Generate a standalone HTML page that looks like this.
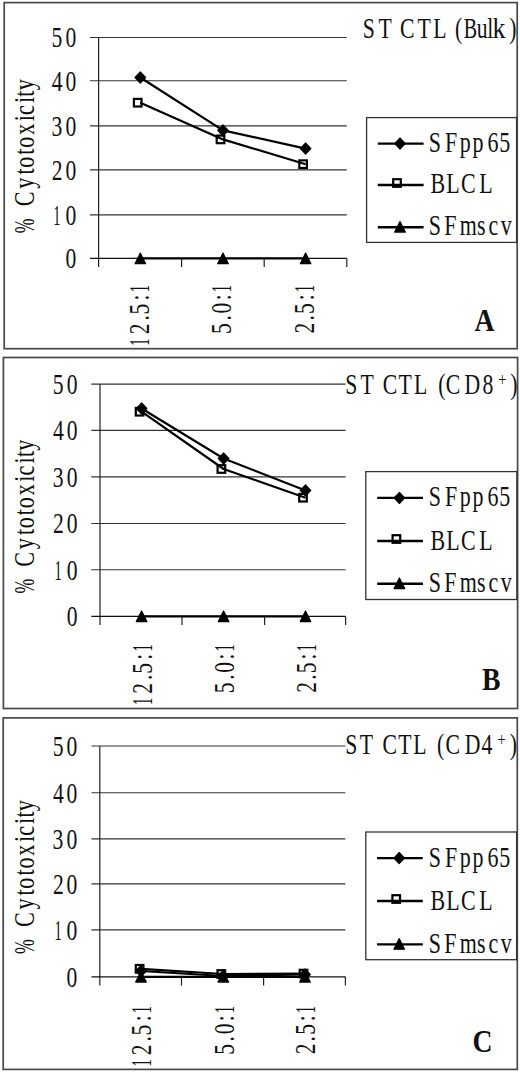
<!DOCTYPE html>
<html><head><meta charset="utf-8"><style>
html,body{margin:0;padding:0;background:#fff;width:520px;height:1072px;overflow:hidden}
svg{display:block;font-family:"Liberation Serif",serif}
</style></head><body>
<svg width="520" height="1072" viewBox="0 0 520 1072" font-family="Liberation Serif, serif">
<rect width="520" height="1072" fill="#fff"/>
<rect x="4.2" y="2.6" width="513.00" height="346.10" fill="none" stroke="#484848" stroke-width="1.7"/>
<line x1="90.00" y1="214.90" x2="346.80" y2="214.90" stroke="#333" stroke-width="1.1"/>
<line x1="90.00" y1="169.90" x2="346.80" y2="169.90" stroke="#333" stroke-width="1.1"/>
<line x1="90.00" y1="125.90" x2="346.80" y2="125.90" stroke="#333" stroke-width="1.1"/>
<line x1="90.00" y1="80.80" x2="346.80" y2="80.80" stroke="#333" stroke-width="1.1"/>
<line x1="90.00" y1="37.50" x2="346.80" y2="37.50" stroke="#333" stroke-width="1.1"/>
<line x1="98.60" y1="37.50" x2="98.60" y2="267.00" stroke="#222" stroke-width="1.2"/>
<line x1="90.00" y1="258.40" x2="346.80" y2="258.40" stroke="#111" stroke-width="1.3"/>
<line x1="181.60" y1="258.40" x2="181.60" y2="267.00" stroke="#222" stroke-width="1.2"/>
<line x1="264.20" y1="258.40" x2="264.20" y2="267.00" stroke="#222" stroke-width="1.2"/>
<line x1="346.80" y1="258.40" x2="346.80" y2="267.00" stroke="#222" stroke-width="1.2"/>
<text transform="translate(0,268.30) scale(0.7500,1)" x="87.20" y="0" font-size="28.80" fill="#111">0</text>
<text transform="translate(0,224.80) scale(0.5000,1)" x="106.37" y="0" font-size="28.80" fill="#111">1</text>
<text transform="translate(0,224.80) scale(0.7500,1)" x="87.20" y="0" font-size="28.80" fill="#111">0</text>
<text transform="translate(0,179.80) scale(0.7500,1)" x="68.95 87.20" y="0" font-size="28.80" fill="#111">20</text>
<text transform="translate(0,135.80) scale(0.7500,1)" x="68.52 87.20" y="0" font-size="28.80" fill="#111">30</text>
<text transform="translate(0,90.70) scale(0.7500,1)" x="68.93 87.20" y="0" font-size="28.80" fill="#111">40</text>
<text transform="translate(0,47.40) scale(0.7500,1)" x="68.65 87.20" y="0" font-size="28.80" fill="#111">50</text>
<polyline points="140.30,258.40 223.00,258.40 305.60,258.40" fill="none" stroke="#000" stroke-width="2.2" stroke-linejoin="round"/>
<polyline points="140.30,102.70 223.00,139.40 305.60,164.20" fill="none" stroke="#000" stroke-width="2.2" stroke-linejoin="round"/>
<polyline points="140.30,77.50 223.00,130.40 305.60,148.60" fill="none" stroke="#000" stroke-width="2.2" stroke-linejoin="round"/>
<path d="M135.00,263.70L140.30,253.10L145.60,263.70Z" fill="#000" stroke="#000" stroke-width="1.2" stroke-linejoin="round"/>
<path d="M217.70,263.70L223.00,253.10L228.30,263.70Z" fill="#000" stroke="#000" stroke-width="1.2" stroke-linejoin="round"/>
<path d="M300.30,263.70L305.60,253.10L310.90,263.70Z" fill="#000" stroke="#000" stroke-width="1.2" stroke-linejoin="round"/>
<rect x="133.90" y="98.90" width="7.60" height="7.60" fill="none" stroke="#000" stroke-width="2.2"/>
<rect x="216.70" y="135.60" width="7.60" height="7.60" fill="none" stroke="#000" stroke-width="2.2"/>
<rect x="299.30" y="160.40" width="7.60" height="7.60" fill="none" stroke="#000" stroke-width="2.2"/>
<path d="M135.00,77.50L140.30,71.90L145.60,77.50L140.30,83.10Z" fill="#000" stroke="#000" stroke-width="1.1" stroke-linejoin="round"/>
<path d="M217.70,130.40L223.00,124.80L228.30,130.40L223.00,136.00Z" fill="#000" stroke="#000" stroke-width="1.1" stroke-linejoin="round"/>
<path d="M300.30,148.60L305.60,143.00L310.90,148.60L305.60,154.20Z" fill="#000" stroke="#000" stroke-width="1.1" stroke-linejoin="round"/>
<text transform="translate(34.00,219.05) rotate(-90) scale(0.7500,1)" x="17.05 40.39 59.26 68.27 85.66 95.07 112.27 130.32 138.74 154.59 163.12 171.59" y="0" font-size="29.60" fill="#111">Cytotoxicity</text>
<text transform="translate(34.00,245.75) rotate(-90) scale(0.6000,1)" x="21.05" y="0" font-size="29.60" fill="#111">%</text>
<text transform="translate(148.50,361.90) rotate(-90) scale(0.5000,1)" x="32.42 139.22" y="0" font-size="28.60" fill="#111">11</text>
<text transform="translate(148.50,361.90) rotate(-90) scale(0.7500,1)" x="36.74 55.09 63.23 82.00" y="0" font-size="28.60" fill="#111">2.5:</text>
<text transform="translate(231.40,348.30) rotate(-90) scale(0.7500,1)" x="19.23 37.09 46.45 64.00" y="0" font-size="28.60" fill="#111">5.0:</text>
<text transform="translate(231.40,348.30) rotate(-90) scale(0.5000,1)" x="112.02" y="0" font-size="28.60" fill="#111">1</text>
<text transform="translate(313.90,348.30) rotate(-90) scale(0.7500,1)" x="19.80 37.09 45.90 64.00" y="0" font-size="28.60" fill="#111">2.5:</text>
<text transform="translate(313.90,348.30) rotate(-90) scale(0.5000,1)" x="112.02" y="0" font-size="28.60" fill="#111">1</text>
<rect x="366.6" y="117.6" width="150.00" height="124.80" fill="#fff" stroke="#333" stroke-width="1.3"/>
<line x1="377.80" y1="143.60" x2="423.60" y2="143.60" stroke="#000" stroke-width="2.4"/>
<path d="M394.70,143.60L400.00,138.00L405.30,143.60L400.00,149.20Z" fill="#000" stroke="#000" stroke-width="1.1" stroke-linejoin="round"/>
<line x1="377.80" y1="185.00" x2="423.60" y2="185.00" stroke="#000" stroke-width="2.4"/>
<rect x="393.20" y="179.20" width="7.60" height="7.60" fill="none" stroke="#000" stroke-width="2.2"/>
<line x1="377.80" y1="227.30" x2="423.60" y2="227.30" stroke="#000" stroke-width="2.4"/>
<path d="M394.70,232.10L400.00,221.50L405.30,232.10Z" fill="#000" stroke="#000" stroke-width="1.2" stroke-linejoin="round"/>
<text transform="translate(0,151.50) scale(0.7500,1)" x="571.68 593.39 613.01 629.95 650.03 665.71" y="0" font-size="29.30" fill="#111">SFpp65</text>
<text transform="translate(0,192.90) scale(0.7500,1)" x="574.05 595.12 614.83 639.12" y="0" font-size="29.30" fill="#111">BLCL</text>
<text transform="translate(0,235.00) scale(0.7500,1)" x="571.82 592.45 613.15 636.16 651.36 667.60" y="0" font-size="29.30" fill="#111">SFmscv</text>
<text transform="translate(474.52,331.10) scale(0.8800,1)" x="0.00" y="0" font-size="31.50" font-weight="bold" fill="#111">A</text>
<rect x="3.4" y="357.5" width="514.20" height="351.00" fill="none" stroke="#484848" stroke-width="1.7"/>
<line x1="91.30" y1="569.70" x2="345.60" y2="569.70" stroke="#333" stroke-width="1.1"/>
<line x1="91.30" y1="523.50" x2="345.60" y2="523.50" stroke="#333" stroke-width="1.1"/>
<line x1="91.30" y1="476.90" x2="345.60" y2="476.90" stroke="#333" stroke-width="1.1"/>
<line x1="91.30" y1="430.40" x2="345.60" y2="430.40" stroke="#333" stroke-width="1.1"/>
<line x1="91.30" y1="384.10" x2="345.60" y2="384.10" stroke="#333" stroke-width="1.1"/>
<line x1="100.00" y1="384.10" x2="100.00" y2="625.00" stroke="#222" stroke-width="1.2"/>
<line x1="91.30" y1="616.30" x2="345.60" y2="616.30" stroke="#111" stroke-width="1.3"/>
<line x1="182.00" y1="616.30" x2="182.00" y2="625.00" stroke="#222" stroke-width="1.2"/>
<line x1="264.60" y1="616.30" x2="264.60" y2="625.00" stroke="#222" stroke-width="1.2"/>
<line x1="345.60" y1="616.30" x2="345.60" y2="625.00" stroke="#222" stroke-width="1.2"/>
<text transform="translate(0,626.20) scale(0.7500,1)" x="89.07" y="0" font-size="28.80" fill="#111">0</text>
<text transform="translate(0,579.60) scale(0.5000,1)" x="109.17" y="0" font-size="28.80" fill="#111">1</text>
<text transform="translate(0,579.60) scale(0.7500,1)" x="89.07" y="0" font-size="28.80" fill="#111">0</text>
<text transform="translate(0,533.40) scale(0.7500,1)" x="70.82 89.07" y="0" font-size="28.80" fill="#111">20</text>
<text transform="translate(0,486.80) scale(0.7500,1)" x="70.39 89.07" y="0" font-size="28.80" fill="#111">30</text>
<text transform="translate(0,440.30) scale(0.7500,1)" x="70.80 89.07" y="0" font-size="28.80" fill="#111">40</text>
<text transform="translate(0,394.00) scale(0.7500,1)" x="70.51 89.07" y="0" font-size="28.80" fill="#111">50</text>
<polyline points="141.60,616.30 223.60,616.30 305.50,616.30" fill="none" stroke="#000" stroke-width="2.2" stroke-linejoin="round"/>
<polyline points="141.60,411.70 223.60,469.00 305.50,497.70" fill="none" stroke="#000" stroke-width="2.2" stroke-linejoin="round"/>
<polyline points="141.60,408.50 223.60,458.50 305.50,490.40" fill="none" stroke="#000" stroke-width="2.2" stroke-linejoin="round"/>
<path d="M136.30,621.60L141.60,611.00L146.90,621.60Z" fill="#000" stroke="#000" stroke-width="1.2" stroke-linejoin="round"/>
<path d="M218.30,621.60L223.60,611.00L228.90,621.60Z" fill="#000" stroke="#000" stroke-width="1.2" stroke-linejoin="round"/>
<path d="M300.20,621.60L305.50,611.00L310.80,621.60Z" fill="#000" stroke="#000" stroke-width="1.2" stroke-linejoin="round"/>
<rect x="135.80" y="407.90" width="7.60" height="7.60" fill="none" stroke="#000" stroke-width="2.2"/>
<rect x="217.60" y="465.20" width="7.60" height="7.60" fill="none" stroke="#000" stroke-width="2.2"/>
<rect x="299.20" y="493.90" width="7.60" height="7.60" fill="none" stroke="#000" stroke-width="2.2"/>
<path d="M136.30,408.50L141.60,402.90L146.90,408.50L141.60,414.10Z" fill="#000" stroke="#000" stroke-width="1.1" stroke-linejoin="round"/>
<path d="M218.30,458.50L223.60,452.90L228.90,458.50L223.60,464.10Z" fill="#000" stroke="#000" stroke-width="1.1" stroke-linejoin="round"/>
<path d="M300.20,490.40L305.50,484.80L310.80,490.40L305.50,496.00Z" fill="#000" stroke="#000" stroke-width="1.1" stroke-linejoin="round"/>
<text transform="translate(33.90,579.45) rotate(-90) scale(0.7500,1)" x="17.05 40.39 59.26 68.27 85.66 95.07 112.27 130.32 138.74 154.59 163.12 171.59" y="0" font-size="29.60" fill="#111">Cytotoxicity</text>
<text transform="translate(33.90,606.15) rotate(-90) scale(0.6000,1)" x="21.05" y="0" font-size="29.60" fill="#111">%</text>
<text transform="translate(151.70,721.20) rotate(-90) scale(0.5000,1)" x="32.42 139.22" y="0" font-size="28.60" fill="#111">11</text>
<text transform="translate(151.70,721.20) rotate(-90) scale(0.7500,1)" x="36.74 55.09 63.23 82.00" y="0" font-size="28.60" fill="#111">2.5:</text>
<text transform="translate(233.50,707.60) rotate(-90) scale(0.7500,1)" x="19.23 37.09 46.45 64.00" y="0" font-size="28.60" fill="#111">5.0:</text>
<text transform="translate(233.50,707.60) rotate(-90) scale(0.5000,1)" x="112.02" y="0" font-size="28.60" fill="#111">1</text>
<text transform="translate(315.50,707.60) rotate(-90) scale(0.7500,1)" x="19.80 37.09 45.90 64.00" y="0" font-size="28.60" fill="#111">2.5:</text>
<text transform="translate(315.50,707.60) rotate(-90) scale(0.5000,1)" x="112.02" y="0" font-size="28.60" fill="#111">1</text>
<rect x="365.8" y="471.6" width="151.00" height="127.90" fill="#fff" stroke="#333" stroke-width="1.3"/>
<line x1="377.20" y1="497.90" x2="423.00" y2="497.90" stroke="#000" stroke-width="2.4"/>
<path d="M394.10,497.90L399.40,492.30L404.70,497.90L399.40,503.50Z" fill="#000" stroke="#000" stroke-width="1.1" stroke-linejoin="round"/>
<line x1="377.20" y1="541.00" x2="423.00" y2="541.00" stroke="#000" stroke-width="2.4"/>
<rect x="392.60" y="535.20" width="7.60" height="7.60" fill="none" stroke="#000" stroke-width="2.2"/>
<line x1="377.20" y1="583.80" x2="423.00" y2="583.80" stroke="#000" stroke-width="2.4"/>
<path d="M394.10,588.60L399.40,578.00L404.70,588.60Z" fill="#000" stroke="#000" stroke-width="1.2" stroke-linejoin="round"/>
<text transform="translate(0,506.40) scale(0.7500,1)" x="571.68 593.39 613.01 629.95 650.03 665.71" y="0" font-size="29.30" fill="#111">SFpp65</text>
<text transform="translate(0,549.50) scale(0.7500,1)" x="574.05 595.12 614.83 639.12" y="0" font-size="29.30" fill="#111">BLCL</text>
<text transform="translate(0,592.10) scale(0.7500,1)" x="571.82 592.45 613.15 636.16 651.36 667.60" y="0" font-size="29.30" fill="#111">SFmscv</text>
<text transform="translate(481.95,689.80) scale(0.8800,1)" x="0.00" y="0" font-size="31.50" font-weight="bold" fill="#111">B</text>
<rect x="3.2" y="717.9" width="514.10" height="351.50" fill="none" stroke="#484848" stroke-width="1.7"/>
<line x1="91.50" y1="929.90" x2="345.40" y2="929.90" stroke="#333" stroke-width="1.1"/>
<line x1="91.50" y1="883.90" x2="345.40" y2="883.90" stroke="#333" stroke-width="1.1"/>
<line x1="91.50" y1="838.85" x2="345.40" y2="838.85" stroke="#333" stroke-width="1.1"/>
<line x1="91.50" y1="792.80" x2="345.40" y2="792.80" stroke="#333" stroke-width="1.1"/>
<line x1="91.50" y1="746.00" x2="345.40" y2="746.00" stroke="#333" stroke-width="1.1"/>
<line x1="99.80" y1="746.00" x2="99.80" y2="985.60" stroke="#222" stroke-width="1.2"/>
<line x1="91.50" y1="976.80" x2="345.40" y2="976.80" stroke="#111" stroke-width="1.3"/>
<line x1="181.50" y1="976.80" x2="181.50" y2="985.60" stroke="#222" stroke-width="1.2"/>
<line x1="263.60" y1="976.80" x2="263.60" y2="985.60" stroke="#222" stroke-width="1.2"/>
<line x1="345.40" y1="976.80" x2="345.40" y2="985.60" stroke="#222" stroke-width="1.2"/>
<text transform="translate(0,986.70) scale(0.7500,1)" x="88.80" y="0" font-size="28.80" fill="#111">0</text>
<text transform="translate(0,939.80) scale(0.5000,1)" x="108.77" y="0" font-size="28.80" fill="#111">1</text>
<text transform="translate(0,939.80) scale(0.7500,1)" x="88.80" y="0" font-size="28.80" fill="#111">0</text>
<text transform="translate(0,893.80) scale(0.7500,1)" x="70.55 88.80" y="0" font-size="28.80" fill="#111">20</text>
<text transform="translate(0,848.75) scale(0.7500,1)" x="70.12 88.80" y="0" font-size="28.80" fill="#111">30</text>
<text transform="translate(0,802.70) scale(0.7500,1)" x="70.53 88.80" y="0" font-size="28.80" fill="#111">40</text>
<text transform="translate(0,755.90) scale(0.7500,1)" x="70.25 88.80" y="0" font-size="28.80" fill="#111">50</text>
<polyline points="141.00,976.80 223.30,976.80 305.00,976.80" fill="none" stroke="#000" stroke-width="2.2" stroke-linejoin="round"/>
<polyline points="141.00,968.80 223.30,974.00 305.00,973.60" fill="none" stroke="#000" stroke-width="2.2" stroke-linejoin="round"/>
<polyline points="141.00,971.00 223.30,976.00 305.00,974.50" fill="none" stroke="#000" stroke-width="2.2" stroke-linejoin="round"/>
<path d="M135.70,982.10L141.00,971.50L146.30,982.10Z" fill="#000" stroke="#000" stroke-width="1.2" stroke-linejoin="round"/>
<path d="M218.00,982.10L223.30,971.50L228.60,982.10Z" fill="#000" stroke="#000" stroke-width="1.2" stroke-linejoin="round"/>
<path d="M299.70,982.10L305.00,971.50L310.30,982.10Z" fill="#000" stroke="#000" stroke-width="1.2" stroke-linejoin="round"/>
<rect x="135.80" y="965.00" width="7.60" height="7.60" fill="none" stroke="#000" stroke-width="2.2"/>
<rect x="217.50" y="970.20" width="7.60" height="7.60" fill="none" stroke="#000" stroke-width="2.2"/>
<rect x="299.70" y="969.80" width="7.60" height="7.60" fill="none" stroke="#000" stroke-width="2.2"/>
<path d="M135.70,971.00L141.00,965.40L146.30,971.00L141.00,976.60Z" fill="#000" stroke="#000" stroke-width="1.1" stroke-linejoin="round"/>
<path d="M218.00,976.00L223.30,970.40L228.60,976.00L223.30,981.60Z" fill="#000" stroke="#000" stroke-width="1.1" stroke-linejoin="round"/>
<path d="M299.70,974.50L305.00,968.90L310.30,974.50L305.00,980.10Z" fill="#000" stroke="#000" stroke-width="1.1" stroke-linejoin="round"/>
<text transform="translate(33.70,939.85) rotate(-90) scale(0.7500,1)" x="17.05 40.39 59.26 68.27 85.66 95.07 112.27 130.32 138.74 154.59 163.12 171.59" y="0" font-size="29.60" fill="#111">Cytotoxicity</text>
<text transform="translate(33.70,966.55) rotate(-90) scale(0.6000,1)" x="21.05" y="0" font-size="29.60" fill="#111">%</text>
<text transform="translate(151.20,1082.80) rotate(-90) scale(0.5000,1)" x="32.42 139.22" y="0" font-size="28.60" fill="#111">11</text>
<text transform="translate(151.20,1082.80) rotate(-90) scale(0.7500,1)" x="36.74 55.09 63.23 82.00" y="0" font-size="28.60" fill="#111">2.5:</text>
<text transform="translate(233.50,1069.20) rotate(-90) scale(0.7500,1)" x="19.23 37.09 46.45 64.00" y="0" font-size="28.60" fill="#111">5.0:</text>
<text transform="translate(233.50,1069.20) rotate(-90) scale(0.5000,1)" x="112.02" y="0" font-size="28.60" fill="#111">1</text>
<text transform="translate(315.00,1069.20) rotate(-90) scale(0.7500,1)" x="19.80 37.09 45.90 64.00" y="0" font-size="28.60" fill="#111">2.5:</text>
<text transform="translate(315.00,1069.20) rotate(-90) scale(0.5000,1)" x="112.02" y="0" font-size="28.60" fill="#111">1</text>
<rect x="365.8" y="832.0" width="150.80" height="127.70" fill="#fff" stroke="#333" stroke-width="1.3"/>
<line x1="377.00" y1="858.10" x2="422.80" y2="858.10" stroke="#000" stroke-width="2.4"/>
<path d="M393.90,858.10L399.20,852.50L404.50,858.10L399.20,863.70Z" fill="#000" stroke="#000" stroke-width="1.1" stroke-linejoin="round"/>
<line x1="377.00" y1="901.00" x2="422.80" y2="901.00" stroke="#000" stroke-width="2.4"/>
<rect x="392.40" y="895.20" width="7.60" height="7.60" fill="none" stroke="#000" stroke-width="2.2"/>
<line x1="377.00" y1="944.40" x2="422.80" y2="944.40" stroke="#000" stroke-width="2.4"/>
<path d="M393.90,949.20L399.20,938.60L404.50,949.20Z" fill="#000" stroke="#000" stroke-width="1.2" stroke-linejoin="round"/>
<text transform="translate(0,866.60) scale(0.7500,1)" x="571.68 593.39 613.01 629.95 650.03 665.71" y="0" font-size="29.30" fill="#111">SFpp65</text>
<text transform="translate(0,909.50) scale(0.7500,1)" x="574.05 595.12 614.83 639.12" y="0" font-size="29.30" fill="#111">BLCL</text>
<text transform="translate(0,952.70) scale(0.7500,1)" x="571.82 592.45 613.15 636.16 651.36 667.60" y="0" font-size="29.30" fill="#111">SFmscv</text>
<text transform="translate(472.61,1052.00) scale(0.8800,1)" x="0.00" y="0" font-size="31.50" font-weight="bold" fill="#111">C</text>
<text transform="translate(0,38.30) scale(0.7600,1)" x="477.47 498.11 526.22 549.43 569.93 598.59 627.21 641.27 670.19" y="0" font-size="28.60" fill="#111">STCTL(ul)</text>
<text transform="translate(0,38.30) scale(0.7000,1)" x="662.57" y="0" font-size="28.60" fill="#111">B</text>
<text transform="translate(0,38.30) scale(0.9000,1)" x="547.32" y="0" font-size="28.60" fill="#111">k</text>
<text transform="translate(0,394.00) scale(0.7600,1)" x="454.18 474.43 503.72 524.43 544.67 576.49 586.36 611.25 634.91" y="0" font-size="28.60" fill="#111">STCTL(CD8</text>
<text transform="translate(0,754.20) scale(0.7600,1)" x="454.18 473.38 503.20 524.03 543.88 574.91 586.22 611.64 633.64" y="0" font-size="28.60" fill="#111">STCTL(CD4</text>
<text transform="translate(0,386.20) scale(0.8000,1)" x="622.85" y="0" font-size="18.00" fill="#111">+</text>
<text transform="translate(0,394.00) scale(0.7600,1)" x="671.51" y="0" font-size="28.60" fill="#111">)</text>
<text transform="translate(0,746.40) scale(0.8000,1)" x="621.97" y="0" font-size="18.00" fill="#111">+</text>
<text transform="translate(0,754.20) scale(0.7600,1)" x="670.85" y="0" font-size="28.60" fill="#111">)</text>
</svg>
</body></html>
